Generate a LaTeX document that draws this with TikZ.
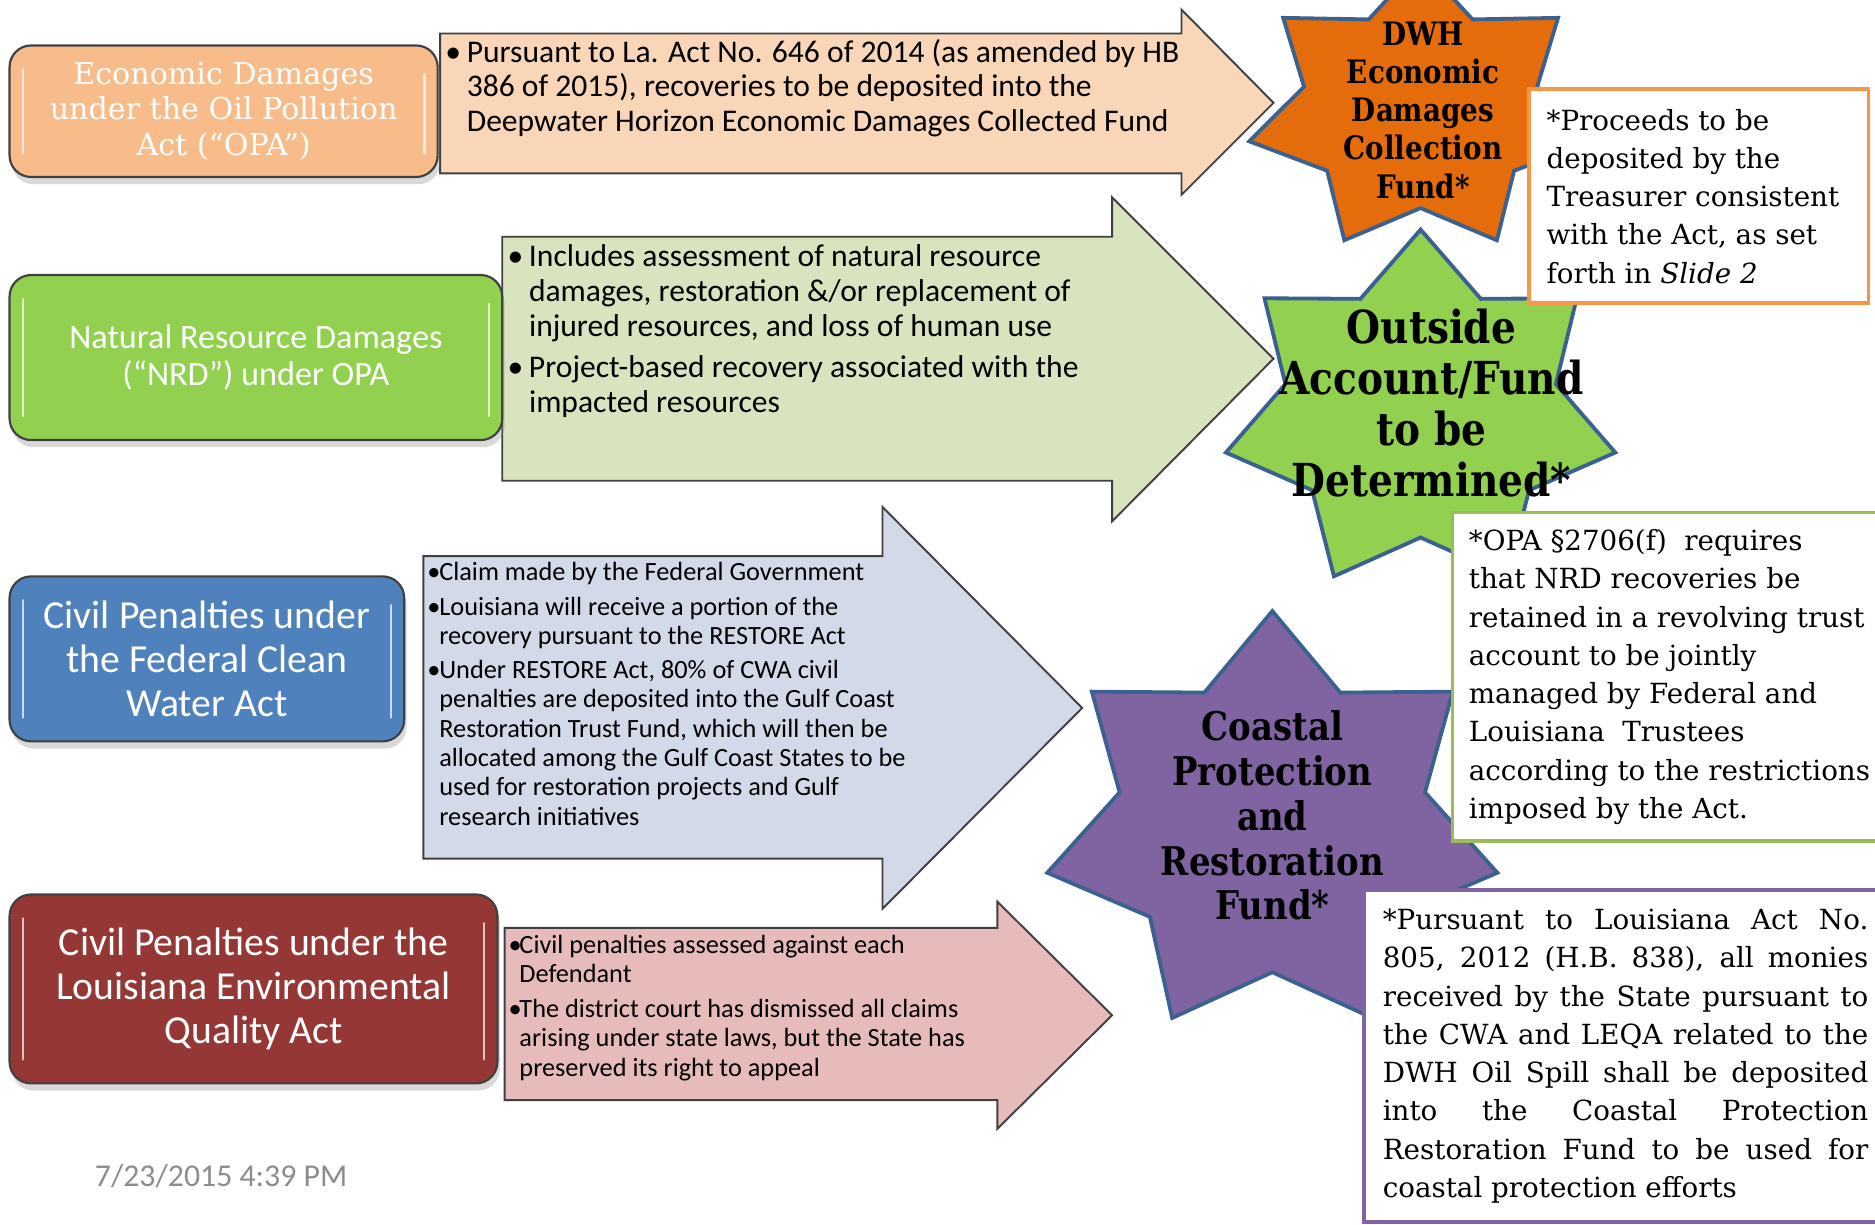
\documentclass[tikz,border=0pt]{standalone}
\usepackage{fontspec}
\setmainfont{DejaVu Serif}
\newfontfamily\calibri{Carlito}
\newfontfamily\starfont[FakeStretch=0.86]{DejaVu Serif}
\usetikzlibrary{shadows}

\definecolor{boxline}{HTML}{404040}
\definecolor{econfill}{HTML}{F8BC8B}
\definecolor{nrdfill}{HTML}{92D050}
\definecolor{cwafill}{HTML}{4F81BD}
\definecolor{leqafill}{HTML}{953735}
\definecolor{econarrow}{HTML}{FAD6B8}
\definecolor{nrdarrow}{HTML}{D8E4BE}
\definecolor{cwaarrow}{HTML}{D2D9E8}
\definecolor{leqaarrow}{HTML}{E6BBBA}
\definecolor{starline}{HTML}{3A6190}
\definecolor{dwhorange}{HTML}{E46C0A}
\definecolor{outsidegreen}{HTML}{92D050}
\definecolor{cprfpurple}{HTML}{8064A2}
\definecolor{noteorange}{HTML}{F79646}
\definecolor{notegreen}{HTML}{9BBB59}
\definecolor{stampgray}{HTML}{8C8C8C}

\newcommand\bulletmark[1]{\makebox[#1][l]{\textbullet}}
\newcommand\bulletgap[1]{\hspace*{#1}}
\newcommand\jline[1]{\makebox[203pt][s]{#1}}

\tikzset{
  srcbox/.style={rounded corners=9pt, draw=boxline, line width=.9pt, text=white,
    align=center, inner sep=0pt,
    drop shadow={opacity=.3, shadow xshift=1pt, shadow yshift=-3pt},
    path picture={
      \draw[white, line width=1pt, opacity=.7, line cap=round]
        ([xshift=5.5pt,yshift=-10pt]path picture bounding box.north west) --
        ([xshift=5.5pt,yshift=10pt]path picture bounding box.south west)
        ([xshift=-5.5pt,yshift=-12pt]path picture bounding box.north east) --
        ([xshift=-5.5pt,yshift=10pt]path picture bounding box.south east);
    }},
  flowarrow/.style={draw=boxline, line width=.8pt},
  bullets/.style={anchor=base west, inner sep=0pt, align=left},
  fundstar/.style={draw=starline, line width=1.6pt},
  startext/.style={align=center, inner sep=0pt},
  notebox/.style={draw, line width=1.6pt, fill=white, inner sep=0pt, anchor=north west},
  notetext/.style={anchor=west, align=left, inner sep=0pt, font=\fontsize{11.6}{16}\selectfont},
}

\begin{document}
\begin{tikzpicture}[x=0.5pt, y=-0.5pt]
\path[use as bounding box, clip] (0,0) rectangle (1568,1024);

% block arrows
\draw[flowarrow, fill=econarrow] (368,28) -- (988,28) -- (988,8) -- (1065,86) -- (988,163) -- (988,145) -- (368,145) -- cycle;
\draw[flowarrow, fill=nrdarrow] (420,198) -- (930,198) -- (930,165) -- (1065,300) -- (930,436) -- (930,402) -- (420,402) -- cycle;
\draw[flowarrow, fill=cwaarrow] (354,465) -- (738,465) -- (738,424) -- (905,592) -- (738,760) -- (738,718) -- (354,718) -- cycle;
\draw[flowarrow, fill=leqaarrow] (422,776) -- (834,776) -- (834,754) -- (930,849) -- (834,944) -- (834,920) -- (422,920) -- cycle;

% bullet texts, placed by the baseline of their last line
\node[bullets, font=\calibri\fontsize{13.2}{14.5}\selectfont] (econtxt) at (372,110)
  {\bulletmark{9pt}Pursuant to La. Act No. 646 of 2014 (as amended by HB\\
   \bulletgap{9pt}386 of 2015), recoveries to be deposited into the\\
   \bulletgap{9pt}Deepwater Horizon Economic Damages Collected Fund};
\node[bullets, font=\calibri\fontsize{13.2}{14.5}\selectfont] (nrdtxt) at (424,345)
  {\bulletmark{9pt}Includes assessment of natural resource\\
   \bulletgap{9pt}damages, restoration \&/or replacement of\\
   \bulletgap{9pt}injured resources, and loss of human use\\[3pt]
   \bulletmark{9pt}Project-based recovery associated with the\\
   \bulletgap{9pt}impacted resources};
\node[bullets, font=\calibri\fontsize{11}{12.25}\selectfont] (cwatxt) at (357,690)
  {\bulletmark{5pt}Claim made by the Federal Government\\[2.3pt]
   \bulletmark{5pt}Louisiana will receive a portion of the\\
   \bulletgap{5pt}recovery pursuant to the RESTORE Act\\[2pt]
   \bulletmark{5pt}Under RESTORE Act, 80\% of CWA civil\\
   \bulletgap{5pt}penalties are deposited into the Gulf Coast\\
   \bulletgap{5pt}Restoration Trust Fund, which will then be\\
   \bulletgap{5pt}allocated among the Gulf Coast States to be\\
   \bulletgap{5pt}used for restoration projects and Gulf\\
   \bulletgap{5pt}research initiatives};
\node[bullets, font=\calibri\fontsize{11}{12.25}\selectfont] (leqatxt) at (425,900)
  {\bulletmark{4.5pt}Civil penalties assessed against each\\
   \bulletgap{4.5pt}Defendant\\[2.3pt]
   \bulletmark{4.5pt}The district court has dismissed all claims\\
   \bulletgap{4.5pt}arising under state laws, but the State has\\
   \bulletgap{4.5pt}preserved its right to appeal};

% damage sources
\node[srcbox, fill=econfill, minimum width=179pt, minimum height=55pt,
  font=\fontsize{12.6}{15}\selectfont] (econ) at (187,93)
  {Economic Damages\\under the Oil Pollution\\Act (“OPA”)};
\node[srcbox, fill=nrdfill, minimum width=206pt, minimum height=69pt,
  font=\calibri\fontsize{14.3}{15.5}\selectfont] (nrd) at (214,299)
  {Natural Resource Damages\\(“NRD”) under OPA};
\node[srcbox, fill=cwafill, minimum width=165pt, minimum height=69pt,
  font=\calibri\fontsize{16.6}{18.5}\selectfont] (cwa) at (173,551)
  {Civil Penalties under\\the Federal Clean\\Water Act};
\node[srcbox, fill=leqafill, minimum width=204pt, minimum height=79pt,
  font=\calibri\fontsize{16.6}{18.25}\selectfont] (leqa) at (212,827)
  {Civil Penalties under the\\Louisiana Environmental\\Quality Act};

% funds (seven pointed stars)
\draw[fundstar, fill=dwhorange, shift={(1188,91)}] (270:147 and 122)
  \foreach \k in {0,...,6} {-- ({270+(\k+.5)*360/7}:100 and 83) -- ({270+(\k+1)*360/7}:147 and 122)} -- cycle;
\draw[fundstar, fill=outsidegreen, shift={(1188,344.5)}] (270:167 and 152.5)
  \foreach \k in {0,...,6} {-- ({270+(\k+.5)*360/7}:116 and 105) -- ({270+(\k+1)*360/7}:167 and 152.5)} -- cycle;
\draw[fundstar, fill=cprfpurple, shift={(1064,690)}] (270:193 and 179)
  \foreach \k in {0,...,6} {-- ({270+(\k+.5)*360/7}:131 and 123) -- ({270+(\k+1)*360/7}:193 and 179)} -- cycle;

\node[startext, font=\starfont\bfseries\fontsize{13.5}{16}\selectfont] (dwh) at (1190,92)
  {DWH\\Economic\\Damages\\Collection\\Fund*};
\node[startext, font=\starfont\bfseries\fontsize{19}{21.25}\selectfont] (outside) at (1197,337)
  {Outside\\Account/Fund\\to be\\Determined*};
\node[startext, font=\starfont\bfseries\fontsize{16.5}{18.75}\selectfont] (cprf) at (1064,682)
  {Coastal\\Protection\\and\\Restoration\\Fund*};

% notes beside the funds
\node[notebox, draw=noteorange, minimum width=142pt, minimum height=89.5pt] (proceeds) at (1277,73) {};
\node[notetext] (proceedstxt) at ([xshift=8pt]proceeds.west)
  {*Proceeds to be\\deposited by the\\Treasurer consistent\\with the Act, as set\\forth in \textit{Slide 2}};
\node[notebox, draw=notegreen, minimum width=179.5pt, minimum height=137.5pt] (opa) at (1213,427) {};
\node[notetext] (opatxt) at ([xshift=7.5pt]opa.west)
  {*OPA §2706(f)\ \ requires\\that NRD recoveries be\\retained in a revolving trust\\account to be jointly\\managed by Federal and\\Louisiana\ \ Trustees\\according to the restrictions\\imposed by the Act.};
\node[notebox, draw=cprfpurple, minimum width=216.5pt, minimum height=138.5pt] (cprfnote) at (1139,743) {};
\node[notetext] (cprfnotetxt) at ([xshift=8.5pt]cprfnote.west)
  {\jline{*Pursuant to Louisiana Act No.}\\
   \jline{805, 2012 (H.B. 838), all monies}\\
   \jline{received by the State pursuant to}\\
   \jline{the CWA and LEQA related to the}\\
   \jline{DWH Oil Spill shall be deposited}\\
   \jline{into the Coastal Protection}\\
   \jline{Restoration Fund to be used for}\\
   coastal protection efforts};

\node[anchor=base west, inner sep=0pt, text=stampgray, font=\calibri\fontsize{13.3}{16}\selectfont] (stamp) at (79,992)
  {7/23/2015 4:39 PM};
\end{tikzpicture}
\end{document}
